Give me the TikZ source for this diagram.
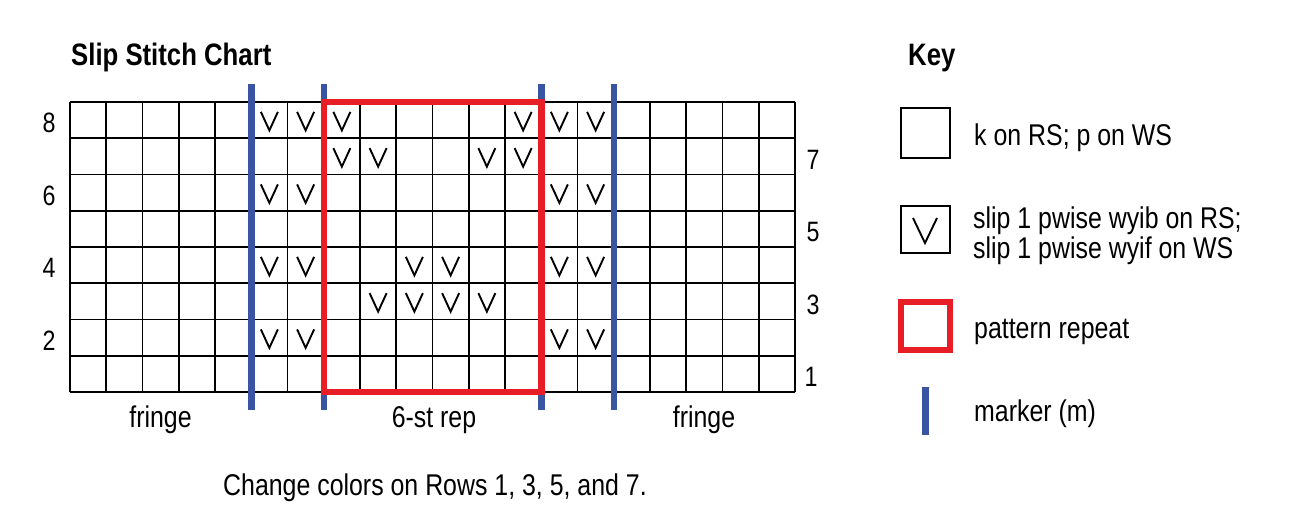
\documentclass[tikz,border=0pt]{standalone}
\usepackage{fontspec}
\setmainfont{Liberation Sans}[FakeStretch=0.83]
\definecolor{mblue}{RGB}{58,84,164}
\definecolor{mred}{RGB}{232,30,38}
\tikzset{
  gridline/.style={line width=1.9pt, black},
  vstroke/.style={line width=1.9pt, black, line join=miter},
  slipv/.pic={\draw[vstroke] (-8.5,-9.25) -- (0,9.25) -- (8.5,-9.25);},
  markerline/.style={line width=6.5pt, mblue},
  repeatbox/.style={line width=6.5pt, mred},
  keybox/.style={line width=1.8pt, black},
  bodytxt/.style={font=\fontsize{30}{31}\selectfont, inner sep=0pt, anchor=base west},
  ctrtxt/.style={font=\fontsize{30}{31}\selectfont, inner sep=0pt, anchor=base},
  numtxt/.style={font=\fontsize{28}{29}\selectfont, inner sep=0pt, anchor=base},
  titletxt/.style={font=\bfseries\fontsize{31}{32}\selectfont, inner sep=0pt, anchor=base west},
}
\begin{document}
\begin{tikzpicture}[x=1pt, y=-1pt]
\useasboundingbox (0,0) rectangle (1300,517);
\def\L{70}\def\T{102}\def\c{36.25}
% titles
\node[titletxt] (title) at (71,65.5) {Slip Stitch Chart};
\node[titletxt] (keytitle) at (908,65.5) {Key};
% grid
\foreach \i in {0,...,20} {
  \draw[gridline] ({\L+\i*\c},\T) -- ({\L+\i*\c},{\T+8*\c});
}
\foreach \j in {0,...,8} {
  \draw[gridline] (\L,{\T+\j*\c}) -- ({\L+20*\c},{\T+\j*\c});
}
% slip stitches: row index j (0 = row 8 at top), column index i
\foreach \j/\i in {0/5,0/6,0/7,0/12,0/13,0/14,
                   1/7,1/8,1/11,1/12,
                   2/5,2/6,2/13,2/14,
                   4/5,4/6,4/9,4/10,4/13,4/14,
                   5/8,5/9,5/10,5/11,
                   6/5,6/6,6/13,6/14} {
  \pic at ({\L+(\i+0.5)*\c},{\T+(\j+0.5)*\c+1}) {slipv};
}
% markers
\foreach \i in {5,7,13,15} {
  \draw[markerline] ({\L+\i*\c},84) -- ({\L+\i*\c},409.5);
}
% pattern repeat
\draw[repeatbox] ({\L+7*\c},\T) rectangle ({\L+13*\c},{\T+8*\c});
% row numbers
\node[numtxt] (r8) at (49,132.5) {8};
\node[numtxt] (r6) at (49,205) {6};
\node[numtxt] (r4) at (49,277.5) {4};
\node[numtxt] (r2) at (49,350) {2};
\node[numtxt] (r7) at (813,169) {7};
\node[numtxt] (r5) at (813,241.5) {5};
\node[numtxt] (r3) at (813,314) {3};
\node[numtxt] (r1) at (811,386.5) {1};
% bottom labels
\node[ctrtxt] (fringeL) at (160.5,427) {fringe};
\node[ctrtxt] (rep) at (434,427.5) {6-st rep};
\node[ctrtxt] (fringeR) at (704,427) {fringe};
\node[ctrtxt] (caption) at (435,495) {Change colors on Rows 1, 3, 5, and 7.};
% key
\draw[keybox] (901,108) rectangle (950,158);
\node[bodytxt] (k1) at (974,145) {k on RS; p on WS};
\draw[keybox] (901,206) rectangle (950,253);
\draw[line width=1.9pt, black] (913,218) -- (925,243) -- (937,218);
\node[bodytxt] (k2a) at (973,228.3) {slip 1 pwise wyib on RS;};
\node[bodytxt] (k2b) at (973,258.3) {slip 1 pwise wyif on WS};
\draw[repeatbox] (901,302) rectangle (950,350);
\node[bodytxt] (k3) at (974,338) {pattern repeat};
\draw[markerline] (925.5,387) -- (925.5,435);
\node[bodytxt] (k4) at (974,421.5) {marker (m)};
\end{tikzpicture}
\end{document}
